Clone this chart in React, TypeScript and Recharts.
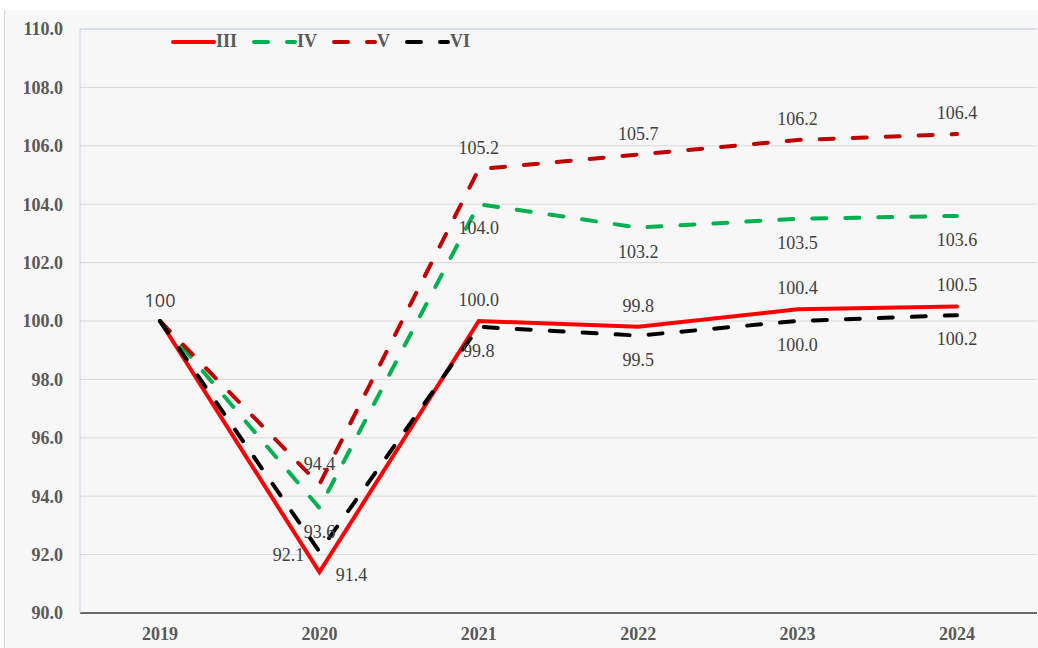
import React from "react";
import {
  CartesianGrid,
  LabelList,
  Legend,
  Line,
  LineChart,
  ReferenceLine,
  XAxis,
  YAxis,
} from "recharts";

const years = ["2019", "2020", "2021", "2022", "2023", "2024"];
const seriesIII = [100, 91.4, 100.0, 99.8, 100.4, 100.5];
const seriesIV = [100, 93.6, 104.0, 103.2, 103.5, 103.6];
const seriesV = [100, 94.4, 105.2, 105.7, 106.2, 106.4];
const seriesVI = [100, 92.1, 99.8, 99.5, 100.0, 100.2];
const yTicks = [90, 92, 94, 96, 98, 100, 102, 104, 106, 108, 110];

const data = years.map((year, i) => ({
  year,
  III: seriesIII[i],
  IV: seriesIV[i],
  V: seriesV[i],
  VI: seriesVI[i],
}));

type Place = "above" | "below" | "left" | "right" | null;

const SERIF = "'Liberation Serif', 'Times New Roman', serif";
const DASH = "14 19";

const series = [
  { key: "III", color: "#ff0000", dash: undefined as string | undefined, places: ["above", "right", "above", "above", "above", "above"] as Place[] },
  { key: "IV", color: "#00b050", dash: DASH, places: [null, "below", "below", "below", "below", "below"] as Place[] },
  { key: "V", color: "#c00000", dash: DASH, places: [null, "above", "above", "above", "above", "above"] as Place[] },
  { key: "VI", color: "#000000", dash: DASH, places: [null, "left", "below", "below", "below", "below"] as Place[] },
];

const offsets: Record<string, [number, number]> = {
  above: [0, -21],
  below: [0, 24],
  left: [-31, 3],
  right: [32, 3],
};

function makeLabel(places: Place[]) {
  return (props: any) => {
    const { x, y, value, index } = props;
    const p = places[index];
    if (!p) return null;
    const [dx, dy] = offsets[p];
    const first = index === 0;
    return (
      <text
        x={Number(x) + dx}
        y={Number(y) + dy}
        textAnchor="middle"
        dominantBaseline="central"
        fill="#404040"
        fontSize={18}
        fontFamily={first ? "'Open Sans', 'DejaVu Sans', sans-serif" : SERIF}
      >
        {first ? String(value) : Number(value).toFixed(1)}
      </text>
    );
  };
}

function LegendContent() {
  return (
    <div style={{ display: "flex", alignItems: "center", fontFamily: SERIF, fontWeight: "bold", fontSize: 18, color: "#595959" }}>
      {series.map((s) => (
        <div key={s.key} style={{ display: "flex", alignItems: "center", marginRight: 15 }}>
          <svg width={45} height={8}>
            <line x1={2} y1={4} x2={43} y2={4} stroke={s.color} strokeWidth={4} strokeDasharray={s.dash} strokeLinecap="round" />
          </svg>
          <span>{s.key}</span>
        </div>
      ))}
    </div>
  );
}

export default function App() {
  return (
    <div style={{ position: "absolute", left: 0, top: 0, width: 1038, height: 648, background: "#ffffff", overflow: "hidden" }}>
      <div style={{ position: "absolute", left: 4, top: 10, width: 1034, height: 638, background: "#f7f7f7", borderLeft: "1px solid #c9d6e8" }} />
      <div style={{ position: "absolute", left: 0, top: 0 }}>
        <LineChart width={1038} height={648} data={data} margin={{ top: 29, right: 1, left: 0, bottom: 0 }}>
          <CartesianGrid vertical={false} stroke="#d9d9d9" />
          <XAxis
            dataKey="year"
            height={35}
            padding={{ left: 80, right: 80 }}
            tickLine={false}
            tickSize={0}
            tickMargin={14}
            axisLine={{ stroke: "#404040", strokeWidth: 1.5 }}
            tick={{ fill: "#595959", fontSize: 18, fontWeight: "bold", fontFamily: SERIF }}
          />
          <YAxis
            width={80}
            domain={[90, 110]}
            ticks={yTicks}
            interval={0}
            tickLine={false}
            tickSize={0}
            tickMargin={17}
            axisLine={{ stroke: "#c9d6e8" }}
            tickFormatter={(v) => Number(v).toFixed(1)}
            tick={{ fill: "#595959", fontSize: 18, fontWeight: "bold", fontFamily: SERIF }}
          />
          <ReferenceLine y={110} stroke="#c9d6e8" />
          <Legend
            layout="horizontal"
            verticalAlign="middle"
            wrapperStyle={{ position: "absolute", left: 171, top: 31, width: "auto" }}
            content={() => <LegendContent />}
          />
          {series.map((s) => (
            <Line
              key={s.key}
              dataKey={s.key}
              type="linear"
              stroke={s.color}
              strokeWidth={4}
              strokeDasharray={s.dash}
              strokeLinecap="round"
              dot={false}
              activeDot={false}
              isAnimationActive={false}
            >
              <LabelList dataKey={s.key} content={makeLabel(s.places)} />
            </Line>
          ))}
        </LineChart>
      </div>
    </div>
  );
}
